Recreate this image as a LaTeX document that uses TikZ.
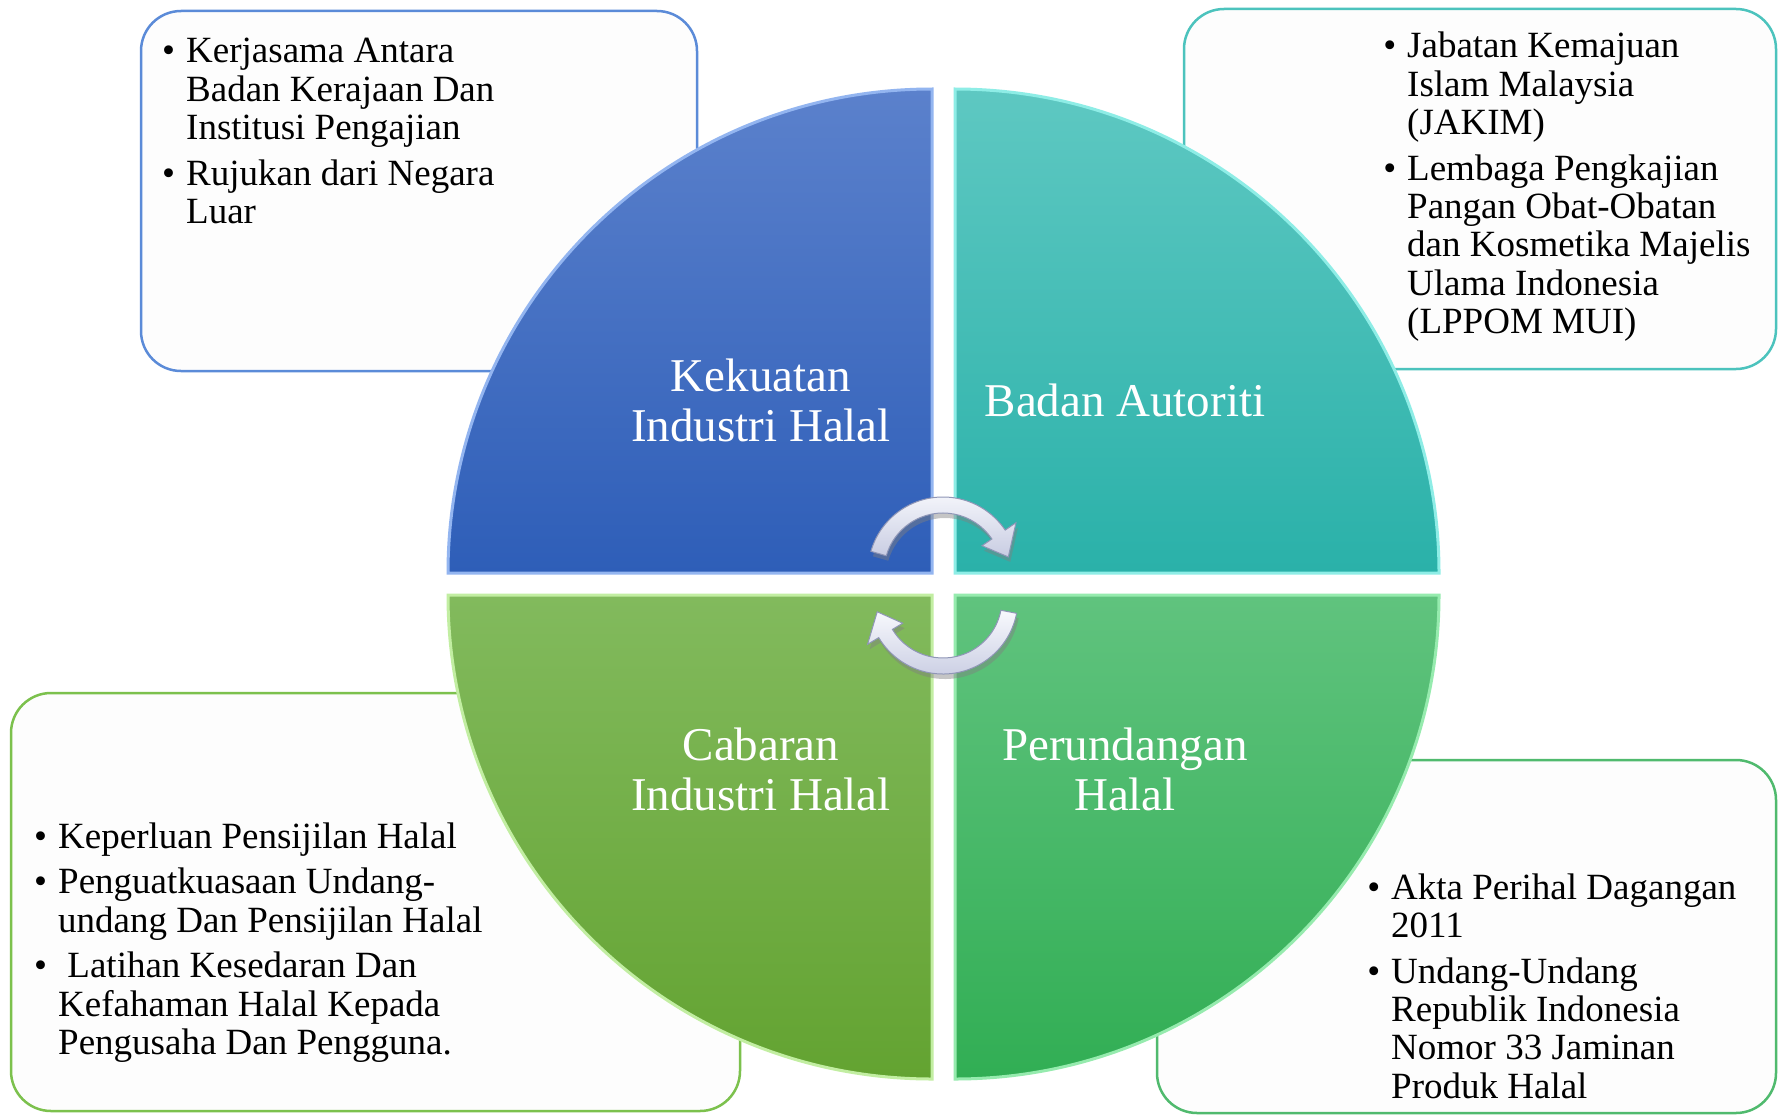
\documentclass[tikz,border=0pt]{standalone}
\usepackage{fontspec}
\setmainfont{Liberation Serif}
\usetikzlibrary{shadows}
\definecolor{tlTop}{HTML}{5B81CC}\definecolor{tlBot}{HTML}{2E5EB8}\definecolor{tlEdge}{HTML}{93B5F0}
\definecolor{trTop}{HTML}{5EC8C2}\definecolor{trBot}{HTML}{2AB1A9}\definecolor{trEdge}{HTML}{8EEDE6}
\definecolor{blTop}{HTML}{82BA5D}\definecolor{blBot}{HTML}{63A331}\definecolor{blEdge}{HTML}{C2EEA2}
\definecolor{brTop}{HTML}{60C37E}\definecolor{brBot}{HTML}{31AE54}\definecolor{brEdge}{HTML}{96EBAE}
\definecolor{tlBorder}{HTML}{5B8BD8}\definecolor{trBorder}{HTML}{4CC3BD}
\definecolor{blBorder}{HTML}{7CC14D}\definecolor{brBorder}{HTML}{50BA6E}
\definecolor{boxfill}{HTML}{FDFDFD}
\definecolor{arrTop}{HTML}{F8F9FD}\definecolor{arrBot}{HTML}{C8CCE2}\definecolor{arrEdge}{HTML}{8F96B6}
\newcommand{\boxfont}{\fontsize{37pt}{38.3pt}\selectfont}
\newcommand{\labfont}{\fontsize{47pt}{50pt}\selectfont}
\newcommand{\bpt}{\makebox[0pt][r]{\textbullet\hspace{11pt}}}
\newcommand{\igap}{\\[7.5pt]}
\begin{document}
\begin{tikzpicture}[x=1pt,y=-1pt,
  infobox/.style={line width=2.5pt, fill=boxfill, rounded corners=40pt},
  quad/.style={line width=3pt},
  boxtext/.style={anchor=base west, inner sep=0pt, text=black},
  quadlabel/.style={anchor=base, inner sep=0pt, text=white},
  arrowshape/.style={top color=arrTop, bottom color=arrBot, draw=arrEdge, line width=1pt,
     drop shadow={opacity=0.45, shadow xshift=2pt, shadow yshift=-5pt}}]
\useasboundingbox (0,0) rectangle (1778,1116);
\fill[white] (0,0) rectangle (1778,1116);

% info boxes
\draw[infobox, draw=tlBorder] (141,11) rectangle (697,371);
\draw[infobox, draw=trBorder] (1184,9) rectangle (1776,369);
\draw[infobox, draw=blBorder] (11,693) rectangle (740,1111);
\draw[infobox, draw=brBorder] (1157,760) rectangle (1776,1113);

\node[boxtext] (tltext) at (186,62.7) {\parbox[t]{480pt}{\boxfont
\bpt Kerjasama Antara\\Badan Kerajaan Dan\\Institusi Pengajian\igap
\bpt Rujukan dari Negara\\Luar}};

\node[boxtext] (trtext) at (1407,58) {\parbox[t]{370pt}{\boxfont
\bpt Jabatan Kemajuan\\Islam Malaysia\\(JAKIM)\igap
\bpt Lembaga Pengkajian\\Pangan Obat-Obatan\\dan Kosmetika Majelis\\Ulama Indonesia\\(LPPOM MUI)}};

\node[boxtext] (bltext) at (58,848) {\parbox[t]{600pt}{\boxfont
\bpt Keperluan Pensijilan Halal\igap
\bpt Penguatkuasaan Undang-\\undang Dan Pensijilan Halal\igap
\bpt \ Latihan Kesedaran Dan\\Kefahaman Halal Kepada\\Pengusaha Dan Pengguna.}};

\node[boxtext] (brtext) at (1391,899) {\parbox[t]{380pt}{\boxfont
\bpt Akta Perihal Dagangan\\2011\igap
\bpt Undang-Undang\\Republik Indonesia\\Nomor 33 Jaminan\\Produk Halal}};

% quadrants
\path[quad, top color=tlTop, bottom color=tlBot, draw=tlEdge]
  (932,573) -- (448,573) arc[start angle=180, end angle=270, radius=484] -- cycle;
\path[quad, top color=trTop, bottom color=trBot, draw=trEdge]
  (955,573) -- (955,89) arc[start angle=270, end angle=360, radius=484] -- cycle;
\path[quad, top color=blTop, bottom color=blBot, draw=blEdge]
  (932,595) -- (448,595) arc[start angle=180, end angle=90, radius=484] -- cycle;
\path[quad, top color=brTop, bottom color=brBot, draw=brEdge]
  (955,595) -- (1439,595) arc[start angle=0, end angle=90, radius=484] -- cycle;

% quadrant labels
\node[quadlabel] (kekuatan) at (761,391) {\parbox[t]{330pt}{\centering\labfont Kekuatan\\Industri Halal}};
\node[quadlabel] (badan) at (1125,416) {\parbox[t]{330pt}{\centering\labfont Badan Autoriti}};
\node[quadlabel] (cabaran) at (761,760) {\parbox[t]{330pt}{\centering\labfont Cabaran\\Industri Halal}};
\node[quadlabel] (perundangan) at (1125,760) {\parbox[t]{330pt}{\centering\labfont Perundangan\\Halal}};

% circular arrows
\begin{scope}[shift={(943,572)}]
\path[arrowshape] (196:59) -- (196:75) arc[start angle=196, end angle=326, radius=75]
  -- (326:88) -- (347:67) -- (326:47) -- (326:59)
  arc[start angle=326, end angle=196, radius=59] -- cycle;
\end{scope}
\begin{scope}[shift={(943,599)}]
\path[arrowshape] (11:59) -- (11:75) arc[start angle=11, end angle=149, radius=75]
  -- (149:88) -- (169:67) -- (149:47) -- (149:59)
  arc[start angle=149, end angle=11, radius=59] -- cycle;
\end{scope}
\end{tikzpicture}
\end{document}
